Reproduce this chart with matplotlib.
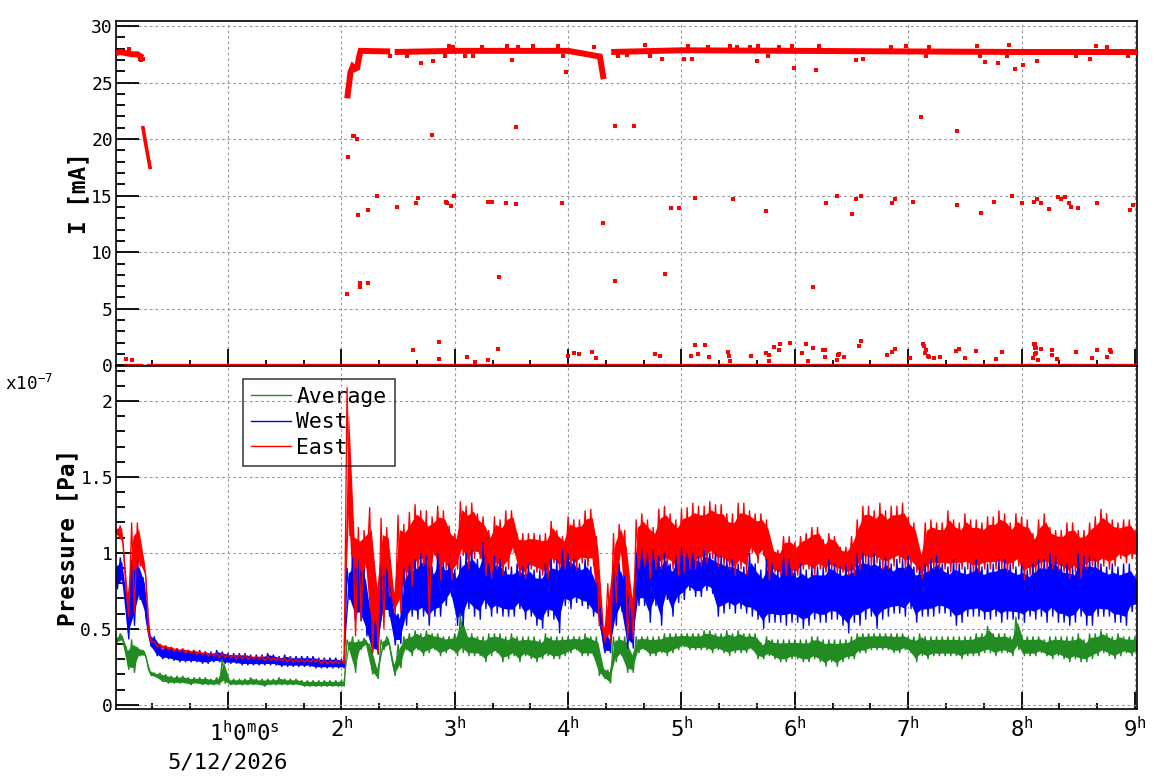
import numpy as np
import matplotlib
matplotlib.use("Agg")
import matplotlib.pyplot as plt
from matplotlib.ticker import MultipleLocator, FixedLocator, FixedFormatter, FuncFormatter
from matplotlib.transforms import ScaledTranslation, blended_transform_factory

plt.rcParams['font.family'] = ['DejaVu Sans Mono', 'DejaVu Sans']
plt.rcParams['mathtext.fontset'] = 'custom'
plt.rcParams['mathtext.rm'] = 'DejaVu Sans Mono'
plt.rcParams['mathtext.it'] = 'DejaVu Sans Mono'
plt.rcParams['mathtext.bf'] = 'DejaVu Sans Mono:bold'

# ---------------- data ----------------
# Pressure [1e-7 Pa], read per 0.05 h bin (t = 0.00 ... 9.00 h): bin max / bin min
east_hi = [1.17, 1.18, 0.76, 1.20, 1.20, 0.95, 0.47, 0.42, 0.40, 0.39,
           0.38, 0.37, 0.37, 0.36, 0.36, 0.35, 0.35, 0.34, 0.34, 0.34,
           0.33, 0.33, 0.33, 0.33, 0.32, 0.32, 0.32, 0.32, 0.31, 0.31,
           0.31, 0.31, 0.30, 0.30, 0.30, 0.30, 0.30, 0.30, 0.29, 0.29,
           0.29, 2.09, 1.22, 1.17, 1.15, 1.30, 0.85, 1.23, 1.17, 0.76,
           1.25, 1.19, 1.27, 1.32, 1.28, 1.28, 1.24, 1.31, 1.28, 1.18,
           1.13, 1.34, 1.31, 1.33, 1.26, 1.24, 1.15, 1.24, 1.22, 1.28,
           1.28, 1.13, 1.13, 1.13, 1.13, 1.12, 1.13, 1.21, 1.15, 1.11,
           1.24, 1.22, 1.22, 1.28, 1.29, 1.11, 0.52, 0.80, 1.13, 1.19,
           1.15, 0.75, 1.22, 1.26, 1.22, 1.17, 1.29, 1.31, 1.26, 1.22,
           1.29, 1.30, 1.33, 1.31, 1.31, 1.34, 1.32, 1.32, 1.26, 1.26,
           1.33, 1.33, 1.28, 1.26, 1.26, 1.22, 1.04, 1.02, 1.11, 1.11,
           1.07, 1.11, 1.13, 1.17, 1.17, 1.09, 1.13, 1.11, 1.04, 1.04,
           1.11, 1.22, 1.31, 1.31, 1.28, 1.33, 1.28, 1.31, 1.31, 1.33,
           1.24, 1.20, 1.02, 1.20, 1.22, 1.20, 1.20, 1.28, 1.22, 1.20,
           1.26, 1.22, 1.22, 1.20, 1.24, 1.24, 1.28, 1.26, 1.20, 1.26,
           1.24, 1.22, 1.13, 1.22, 1.26, 1.17, 1.15, 1.15, 1.20, 1.20,
           1.15, 1.15, 1.20, 1.24, 1.29, 1.26, 1.22, 1.20, 1.22, 1.22,
           1.15]
east_lo = [1.12, 1.06, 0.58, 0.60, 0.91, 0.85, 0.41, 0.38, 0.37, 0.36,
           0.35, 0.35, 0.34, 0.34, 0.33, 0.33, 0.32, 0.32, 0.31, 0.31,
           0.31, 0.30, 0.30, 0.30, 0.30, 0.30, 0.29, 0.29, 0.29, 0.29,
           0.28, 0.28, 0.28, 0.28, 0.28, 0.28, 0.27, 0.27, 0.27, 0.27,
           0.27, 1.11, 0.45, 0.55, 0.90, 0.34, 0.34, 0.50, 0.71, 0.60,
           0.60, 0.83, 0.78, 0.89, 0.91, 0.58, 0.98, 0.82, 0.89, 0.82,
           0.89, 0.98, 0.89, 0.96, 0.96, 0.85, 0.83, 0.89, 0.85, 0.89,
           1.00, 0.85, 0.83, 0.89, 0.87, 0.85, 0.83, 0.93, 0.89, 0.89,
           0.91, 0.89, 0.93, 0.91, 0.91, 0.52, 0.41, 0.41, 0.67, 0.98,
           0.43, 0.43, 0.89, 0.91, 0.83, 0.89, 0.89, 0.91, 0.89, 0.85,
           0.87, 0.89, 0.89, 0.91, 0.93, 0.96, 0.91, 0.91, 0.89, 0.85,
           0.89, 0.85, 1.00, 0.93, 0.98, 0.82, 0.87, 0.85, 0.85, 0.85,
           0.85, 0.89, 0.89, 0.85, 0.89, 0.87, 0.89, 0.87, 0.87, 0.85,
           0.85, 0.89, 0.93, 0.91, 0.93, 0.89, 0.89, 0.91, 0.93, 0.89,
           0.91, 0.87, 0.83, 0.87, 0.89, 0.89, 0.89, 0.87, 0.89, 0.89,
           0.89, 0.87, 0.87, 0.89, 0.89, 0.89, 0.89, 0.87, 0.89, 0.91,
           0.82, 0.85, 0.87, 0.89, 0.89, 0.89, 0.89, 0.87, 0.83, 0.87,
           0.83, 0.89, 0.91, 0.89, 0.91, 0.89, 0.91, 0.96, 0.93, 0.96,
           0.96]
west_hi = [0.94, 0.97, 0.69, 0.95, 0.95, 0.84, 0.46, 0.45, 0.38, 0.38,
           0.37, 0.37, 0.36, 0.36, 0.35, 0.36, 0.35, 0.35, 0.36, 0.35,
           0.34, 0.34, 0.34, 0.34, 0.33, 0.33, 0.33, 0.34, 0.33, 0.32,
           0.33, 0.32, 0.32, 0.32, 0.32, 0.32, 0.31, 0.31, 0.31, 0.31,
           0.30, 0.90, 0.97, 0.95, 0.89, 0.60, 0.55, 0.91, 0.89, 0.65,
           0.60, 0.90, 0.93, 0.96, 1.00, 0.98, 0.91, 1.00, 0.93, 0.93,
           0.89, 0.98, 1.00, 1.02, 0.96, 1.07, 0.93, 0.98, 0.96, 0.91,
           0.91, 0.93, 0.91, 0.93, 0.89, 0.89, 0.93, 0.96, 0.96, 1.02,
           1.00, 0.96, 0.93, 0.96, 0.91, 0.80, 0.47, 0.45, 0.91, 0.93,
           0.85, 0.60, 1.00, 1.02, 1.00, 1.02, 0.98, 1.00, 0.93, 0.98,
           1.04, 1.00, 1.00, 0.98, 1.02, 1.00, 1.00, 0.98, 0.96, 0.96,
           0.93, 0.91, 1.00, 0.93, 0.89, 0.96, 0.93, 0.89, 1.02, 0.96,
           0.89, 0.93, 0.89, 0.91, 0.91, 0.91, 0.96, 0.93, 0.91, 0.93,
           0.93, 1.00, 1.00, 0.98, 1.00, 0.96, 0.98, 0.93, 0.96, 0.96,
           0.98, 0.91, 0.91, 0.93, 0.96, 0.98, 0.93, 0.91, 0.96, 0.93,
           0.91, 0.93, 0.96, 0.91, 0.93, 0.93, 0.96, 0.96, 0.93, 0.91,
           0.93, 0.89, 0.93, 0.96, 0.96, 1.00, 0.98, 0.93, 0.93, 0.91,
           1.00, 0.98, 0.98, 0.96, 0.93, 0.91, 0.93, 0.91, 0.93, 0.93,
           0.85]
west_lo = [0.76, 0.80, 0.43, 0.52, 0.69, 0.58, 0.38, 0.32, 0.30, 0.30,
           0.29, 0.28, 0.28, 0.28, 0.28, 0.27, 0.27, 0.28, 0.28, 0.27,
           0.27, 0.27, 0.26, 0.26, 0.26, 0.26, 0.26, 0.26, 0.26, 0.25,
           0.25, 0.25, 0.25, 0.25, 0.25, 0.24, 0.24, 0.24, 0.24, 0.24,
           0.24, 0.69, 0.55, 0.55, 0.45, 0.34, 0.33, 0.58, 0.58, 0.39,
           0.40, 0.52, 0.58, 0.56, 0.58, 0.52, 0.58, 0.58, 0.65, 0.71,
           0.52, 0.52, 0.63, 0.58, 0.56, 0.63, 0.58, 0.60, 0.58, 0.58,
           0.58, 0.63, 0.56, 0.58, 0.52, 0.50, 0.58, 0.56, 0.47, 0.65,
           0.63, 0.67, 0.65, 0.63, 0.58, 0.56, 0.34, 0.34, 0.52, 0.61,
           0.37, 0.37, 0.65, 0.65, 0.54, 0.65, 0.52, 0.69, 0.58, 0.67,
           0.69, 0.75, 0.71, 0.71, 0.75, 0.73, 0.58, 0.60, 0.63, 0.60,
           0.63, 0.60, 0.58, 0.56, 0.50, 0.54, 0.54, 0.54, 0.52, 0.54,
           0.54, 0.50, 0.52, 0.56, 0.54, 0.54, 0.56, 0.56, 0.52, 0.47,
           0.54, 0.52, 0.56, 0.58, 0.50, 0.56, 0.58, 0.60, 0.60, 0.58,
           0.63, 0.54, 0.58, 0.58, 0.58, 0.60, 0.60, 0.58, 0.52, 0.54,
           0.58, 0.58, 0.58, 0.56, 0.56, 0.58, 0.54, 0.56, 0.56, 0.56,
           0.54, 0.58, 0.56, 0.58, 0.54, 0.58, 0.54, 0.54, 0.52, 0.54,
           0.58, 0.52, 0.52, 0.58, 0.58, 0.58, 0.54, 0.54, 0.52, 0.61,
           0.63]
avg_hi = [0.45, 0.47, 0.38, 0.43, 0.38, 0.36, 0.23, 0.21, 0.21, 0.20,
          0.19, 0.19, 0.19, 0.18, 0.18, 0.18, 0.18, 0.17, 0.18, 0.30,
          0.17, 0.17, 0.17, 0.17, 0.18, 0.17, 0.17, 0.17, 0.17, 0.18,
          0.17, 0.17, 0.17, 0.16, 0.16, 0.16, 0.16, 0.16, 0.16, 0.16,
          0.16, 0.43, 0.45, 0.43, 0.44, 0.40, 0.25, 0.43, 0.45, 0.28,
          0.40, 0.45, 0.47, 0.49, 0.47, 0.49, 0.47, 0.47, 0.45, 0.45,
          0.47, 0.60, 0.47, 0.47, 0.45, 0.45, 0.47, 0.47, 0.47, 0.45,
          0.47, 0.45, 0.45, 0.45, 0.45, 0.43, 0.47, 0.45, 0.45, 0.45,
          0.45, 0.45, 0.45, 0.47, 0.45, 0.45, 0.25, 0.23, 0.45, 0.45,
          0.45, 0.35, 0.45, 0.45, 0.45, 0.45, 0.45, 0.47, 0.47, 0.47,
          0.47, 0.47, 0.47, 0.47, 0.49, 0.49, 0.47, 0.47, 0.49, 0.47,
          0.49, 0.47, 0.47, 0.47, 0.41, 0.45, 0.43, 0.43, 0.43, 0.43,
          0.43, 0.43, 0.43, 0.45, 0.45, 0.43, 0.43, 0.43, 0.43, 0.43,
          0.45, 0.47, 0.47, 0.47, 0.47, 0.47, 0.47, 0.47, 0.47, 0.47,
          0.45, 0.45, 0.47, 0.45, 0.45, 0.45, 0.45, 0.45, 0.45, 0.45,
          0.45, 0.45, 0.47, 0.47, 0.52, 0.47, 0.47, 0.47, 0.45, 0.58,
          0.45, 0.45, 0.45, 0.45, 0.43, 0.45, 0.45, 0.45, 0.45, 0.45,
          0.47, 0.43, 0.47, 0.47, 0.49, 0.47, 0.45, 0.47, 0.45, 0.45,
          0.45]
avg_lo = [0.41, 0.42, 0.23, 0.21, 0.32, 0.32, 0.19, 0.18, 0.15, 0.14,
          0.14, 0.14, 0.14, 0.13, 0.14, 0.13, 0.13, 0.13, 0.13, 0.14,
          0.13, 0.13, 0.13, 0.13, 0.13, 0.13, 0.12, 0.13, 0.13, 0.13,
          0.13, 0.13, 0.13, 0.12, 0.12, 0.12, 0.12, 0.12, 0.12, 0.12,
          0.12, 0.36, 0.21, 0.36, 0.39, 0.20, 0.17, 0.36, 0.39, 0.19,
          0.24, 0.36, 0.32, 0.36, 0.32, 0.34, 0.36, 0.32, 0.34, 0.36,
          0.32, 0.34, 0.32, 0.32, 0.32, 0.28, 0.32, 0.34, 0.28, 0.30,
          0.32, 0.28, 0.32, 0.30, 0.28, 0.30, 0.32, 0.30, 0.30, 0.32,
          0.34, 0.36, 0.32, 0.32, 0.32, 0.19, 0.17, 0.14, 0.28, 0.32,
          0.21, 0.21, 0.34, 0.36, 0.32, 0.32, 0.34, 0.32, 0.34, 0.36,
          0.38, 0.36, 0.36, 0.36, 0.36, 0.34, 0.36, 0.34, 0.32, 0.34,
          0.34, 0.34, 0.36, 0.30, 0.30, 0.32, 0.30, 0.28, 0.28, 0.30,
          0.30, 0.28, 0.28, 0.30, 0.28, 0.25, 0.28, 0.25, 0.28, 0.30,
          0.30, 0.34, 0.34, 0.36, 0.36, 0.36, 0.36, 0.34, 0.34, 0.36,
          0.34, 0.28, 0.32, 0.30, 0.32, 0.32, 0.32, 0.32, 0.32, 0.30,
          0.32, 0.32, 0.32, 0.34, 0.34, 0.32, 0.34, 0.34, 0.32, 0.36,
          0.32, 0.32, 0.32, 0.34, 0.32, 0.30, 0.32, 0.30, 0.28, 0.30,
          0.28, 0.28, 0.30, 0.32, 0.34, 0.32, 0.30, 0.32, 0.34, 0.32,
          0.34]

# Beam current I [mA]
band1_t = [0.012, 0.05, 0.10, 0.15, 0.20, 0.248]
band1_v = [27.6, 27.7, 27.6, 27.5, 27.5, 27.2]
drop_t = [0.250, 0.270, 0.290, 0.312]
drop_v = [21.0, 19.8, 18.7, 17.5]
ramp_t = [2.052, 2.060, 2.070, 2.080, 2.100, 2.120, 2.140, 2.155, 2.170, 2.43]
ramp_v = [23.6, 24.3, 25.0, 25.9, 26.4, 26.2, 26.3, 27.2, 27.8, 27.75]
band3_t = [2.47, 3.0, 3.5, 4.0, 4.28, 4.295, 4.313]
band3_v = [27.7, 27.8, 27.8, 27.8, 27.3, 26.4, 25.3]
band4_t = [4.38, 5.0, 6.0, 7.0, 8.0, 9.02]
band4_v = [27.7, 27.85, 27.8, 27.75, 27.7, 27.7]
zero_a_t = [0.083, 0.252]
zero_b_t = [0.280, 9.02]

jit_t = [0.13, 0.224, 0.236, 0.248, 2.952, 2.987, 3.237, 3.457, 3.56, 3.692, 3.907,
         4.23, 4.677, 5.06, 5.236, 5.427, 5.49, 5.603, 5.677, 5.862, 5.976, 6.214,
         6.847, 6.976, 7.184, 7.608, 7.89, 8.66, 8.757, 2.43, 2.576, 2.914, 3.09,
         3.163, 3.957, 4.44, 4.516, 4.72, 5.765, 7.16, 7.631, 7.867, 8.484, 8.94]
jit_v = [28.0, 27.1, 27.0, 27.1, 28.2, 28.15, 28.15, 28.2, 28.15, 28.2, 28.2,
         28.15, 28.3, 28.2, 28.15, 28.2, 28.15, 28.15, 28.2, 28.15, 28.2, 28.2,
         28.15, 28.2, 28.15, 28.2, 28.3, 28.2, 28.15, 27.35, 27.35, 27.35, 27.35,
         27.35, 27.35, 27.35, 27.4, 27.35, 27.35, 27.35, 27.35, 27.35, 27.35, 27.35]

out_t = [0.10, 0.15, 2.052, 2.061, 2.10, 2.11, 2.14, 2.149, 2.164, 2.164, 2.237, 2.237,
         2.317, 2.493, 2.634, 2.66, 2.68, 2.702, 2.80, 2.81, 2.864, 2.864, 2.925, 2.934,
         2.97, 2.99, 3.11, 3.18, 3.295, 3.296, 3.33, 3.384, 3.39, 3.455, 3.507, 3.54,
         3.54, 3.948, 3.978, 4.0, 4.054, 4.098, 4.21, 4.25, 4.31, 4.41, 4.415, 4.58,
         4.77, 4.81, 4.83, 4.856, 4.91, 4.98, 5.02, 5.085, 5.09, 5.12, 5.12, 5.147,
         5.21, 5.244, 5.41, 5.42, 5.43, 5.456, 5.615, 5.668, 5.747, 5.747, 5.77, 5.77,
         5.817, 5.86, 5.87, 5.958, 5.99, 6.06, 6.10, 6.117, 6.16, 6.16, 6.19, 6.25,
         6.27, 6.27, 6.276, 6.37, 6.37, 6.38, 6.39, 6.43, 6.50, 6.54, 6.54, 6.57,
         6.585, 6.585, 6.60, 6.81, 6.858, 6.86, 6.885, 6.885, 7.02, 7.043, 7.114, 7.13,
         7.14, 7.15, 7.16, 7.175, 7.185, 7.23, 7.28, 7.42, 7.43, 7.43, 7.45, 7.50,
         7.60, 7.643, 7.68, 7.757, 7.775, 7.79, 7.83, 7.916, 7.94, 8.004, 8.01, 8.10,
         8.11, 8.11, 8.12, 8.115, 8.13, 8.12, 8.13, 8.145, 8.14, 8.14, 8.17, 8.17,
         8.24, 8.27, 8.27, 8.31, 8.32, 8.35, 8.38, 8.42, 8.44, 8.48, 8.50, 8.60,
         8.62, 8.666, 8.666, 8.754, 8.78, 8.79, 8.957, 8.984]
out_v = [0.53, 0.44, 6.29, 18.42, 20.3, 20.3, 20.0, 13.3, 7.3, 6.96, 7.26, 13.75,
         14.93, 14.0, 1.33, 14.35, 14.79, 26.75, 20.37, 26.9, 2.04, 0.53, 14.4, 14.35,
         14.08, 14.97, 0.71, 0.27, 0.44, 14.44, 14.44, 1.42, 7.79, 14.35, 26.98, 21.08,
         14.26, 14.35, 25.95, 0.8, 1.06, 0.97, 1.15, 0.62, 12.57, 21.17, 7.44, 21.17,
         0.97, 0.8, 27.1, 8.06, 13.9, 13.9, 27.1, 0.8, 27.1, 14.79, 1.77, 0.97,
         1.77, 0.71, 1.15, 0.8, 0.35, 14.7, 0.8, 26.9, 13.64, 1.06, 0.88, 0.35,
         1.6, 1.33, 1.86, 1.95, 26.3, 1.06, 1.86, 0.35, 6.9, 1.5, 26.1, 1.33,
         1.33, 0.71, 14.35, 14.97, 0.44, 0.88, 0.97, 0.71, 13.37, 14.7, 27.0, 1.68,
         14.97, 2.13, 27.1, 0.88, 14.35, 1.15, 14.7, 1.42, 0.62, 14.44, 21.97, 1.86,
         1.68, 1.06, 1.33, 0.8, 0.71, 0.62, 0.71, 1.24, 20.73, 14.17, 1.42, 0.62,
         1.24, 13.46, 26.84, 14.44, 0.53, 26.75, 1.15, 14.97, 26.2, 14.35, 26.57, 0.62,
         14.44, 1.86, 1.86, 1.5, 1.5, 0.97, 1.06, 0.44, 14.7, 26.9, 14.35, 1.42,
         13.82, 1.33, 0.88, 0.53, 14.88, 14.7, 14.88, 14.35, 14.0, 1.15, 13.9, 27.1,
         0.62, 14.35, 1.33, 0.71, 1.33, 1.15, 13.73, 14.2]

xtick_hours = [1, 2, 3, 4, 5, 6, 7, 8, 9]
xtick_labels = ['', r'$\mathrm{2^{h}}$', r'$\mathrm{3^{h}}$', r'$\mathrm{4^{h}}$',
                r'$\mathrm{5^{h}}$', r'$\mathrm{6^{h}}$', r'$\mathrm{7^{h}}$',
                r'$\mathrm{8^{h}}$', r'$\mathrm{9^{h}}$']
first_label = r'$\mathrm{1^{h}0^{m}0^{s}}$'
date_label = '5/12/2026'
legend_labels = ['Average', 'West', 'East']

# ---------------- figure ----------------
W, H = 1158, 782
fig = plt.figure(figsize=(W / 100, H / 100), dpi=100)
L, R = 116 / W, 1137 / W
ax1 = fig.add_axes([L, 1 - 366 / H, R - L, (366 - 21) / H])
ax2 = fig.add_axes([L, 1 - 709 / H, R - L, (709 - 366) / H], sharex=ax1)

RED, BLUE, GREEN = '#ff0000', '#0000ff', '#228b22'
GRID = dict(color='#9a9a9a', linestyle=(0, (2.5, 2.5)), linewidth=0.8)


def style(ax):
    for s in ax.spines.values():
        s.set_linewidth(1.2)
    ax.tick_params(axis='both', which='both', direction='in', top=False, right=False,
                   width=1.3, colors='black')
    ax.tick_params(axis='y', which='major', length=16.5, pad=2.2, labelsize=13)
    ax.tick_params(axis='y', which='minor', length=6.5)
    ax.tick_params(axis='x', which='major', length=12.5, pad=5, labelsize=16)
    ax.tick_params(axis='x', which='minor', length=4.5)
    ax.grid(True, which='major', **GRID)


# ---- top panel: current ----
cur_kw = dict(color=RED, lw=4.3, solid_capstyle='butt', solid_joinstyle='miter', zorder=3)
ax1.plot(band1_t, band1_v, **cur_kw)
ax1.plot(drop_t, drop_v, color=RED, lw=2.6, zorder=3)
ax1.plot(ramp_t, ramp_v, **cur_kw)
ax1.plot(band3_t, band3_v, **cur_kw)
ax1.plot(band4_t, band4_v, **cur_kw)
ax1.plot(zero_a_t, [0, 0], color=RED, lw=2.4, zorder=4, clip_on=False, solid_capstyle='butt')
ax1.plot(zero_b_t, [0, 0], color=RED, lw=2.4, zorder=4, clip_on=False, solid_capstyle='butt')
ax1.plot(jit_t, jit_v, ls='none', marker='s', ms=2.4, mew=0, color=RED, zorder=3)
ax1.plot(out_t, out_v, ls='none', marker='s', ms=2.4, mew=0, color=RED, zorder=3)

ax1.set_xlim(0.012, 9.018)
ax1.set_ylim(-0.06, 30.44)
ax1.yaxis.set_major_locator(MultipleLocator(5))
ax1.yaxis.set_minor_locator(MultipleLocator(1))
ax1.xaxis.set_major_locator(FixedLocator(xtick_hours))
ax1.xaxis.set_minor_locator(MultipleLocator(1 / 3))
style(ax1)
ax1.tick_params(axis='x', which='both', labelbottom=False)
ax1.set_ylabel('I [mA]', fontsize=16.3, fontweight='bold')
ax1.yaxis.set_label_coords(-0.0255, 0.5)

# ---- bottom panel: pressure ----
p_time = np.arange(len(east_hi)) * 0.05
series = [(np.array(avg_hi), np.array(avg_lo), GREEN, legend_labels[0]),
          (np.array(west_hi), np.array(west_lo), BLUE, legend_labels[1]),
          (np.array(east_hi), np.array(east_lo), RED, legend_labels[2])]

# dense core of each noisy trace (inner part of the min/max range of every bin)
for z, (hi, lo, col, lab) in zip([1.8, 1.7, 1.6], series):
    span = hi - lo
    ax2.fill_between(p_time + 0.0125, lo + 0.15 * span, hi - 0.15 * span,
                     color=col, lw=0, zorder=z)

# min/max trace of every bin
lines = []
for hi, lo, col, lab in series:
    t = np.column_stack([p_time, p_time + 0.025]).ravel()
    v = np.column_stack([hi, lo]).ravel()
    ln, = ax2.plot(t, v, color=col, lw=0.95, label=lab, solid_joinstyle='miter', zorder=2.2)
    lines.append(ln)

ax2.set_ylim(-0.028, 2.23)
ax2.yaxis.set_major_locator(MultipleLocator(0.5))
ax2.yaxis.set_minor_locator(MultipleLocator(0.1))
ax2.yaxis.set_major_formatter(FuncFormatter(lambda v, p: f'{round(v, 2):g}'))
style(ax2)
ax2.xaxis.set_major_formatter(FixedFormatter(xtick_labels))
ax2.set_ylabel('Pressure [Pa]', fontsize=16.3, fontweight='bold')
ax2.yaxis.set_label_coords(-0.036, 0.5)

# first (long) time label and date line
bt = blended_transform_factory(ax2.transData, fig.transFigure)
ax2.text(1.0, 1 - 741 / H, first_label, transform=bt + ScaledTranslation(0.16, 0, fig.dpi_scale_trans),
         ha='center', va='baseline', fontsize=16)
ax2.text(1.0, 1 - 768 / H, date_label, transform=bt, ha='center', va='baseline', fontsize=16)

fig.text(5 / W, 1 - 390 / H, r'x10$^{-7}$', fontsize=12.7, va='baseline', ha='left')

leg = ax2.legend(handles=lines, loc='upper left', bbox_to_anchor=(243 / W, 1 - 378.7 / H),
                 bbox_transform=fig.transFigure, borderaxespad=0, fontsize=15.4,
                 handlelength=1.87, handletextpad=0.25, labelspacing=0.26, borderpad=0.38,
                 fancybox=False, frameon=True)
leg.get_frame().set_edgecolor('black')
leg.get_frame().set_facecolor('none')
leg.get_frame().set_linewidth(1.1)
for h in leg.get_lines():
    h.set_linewidth(1.0)

fig.savefig('out.png', dpi=100)
